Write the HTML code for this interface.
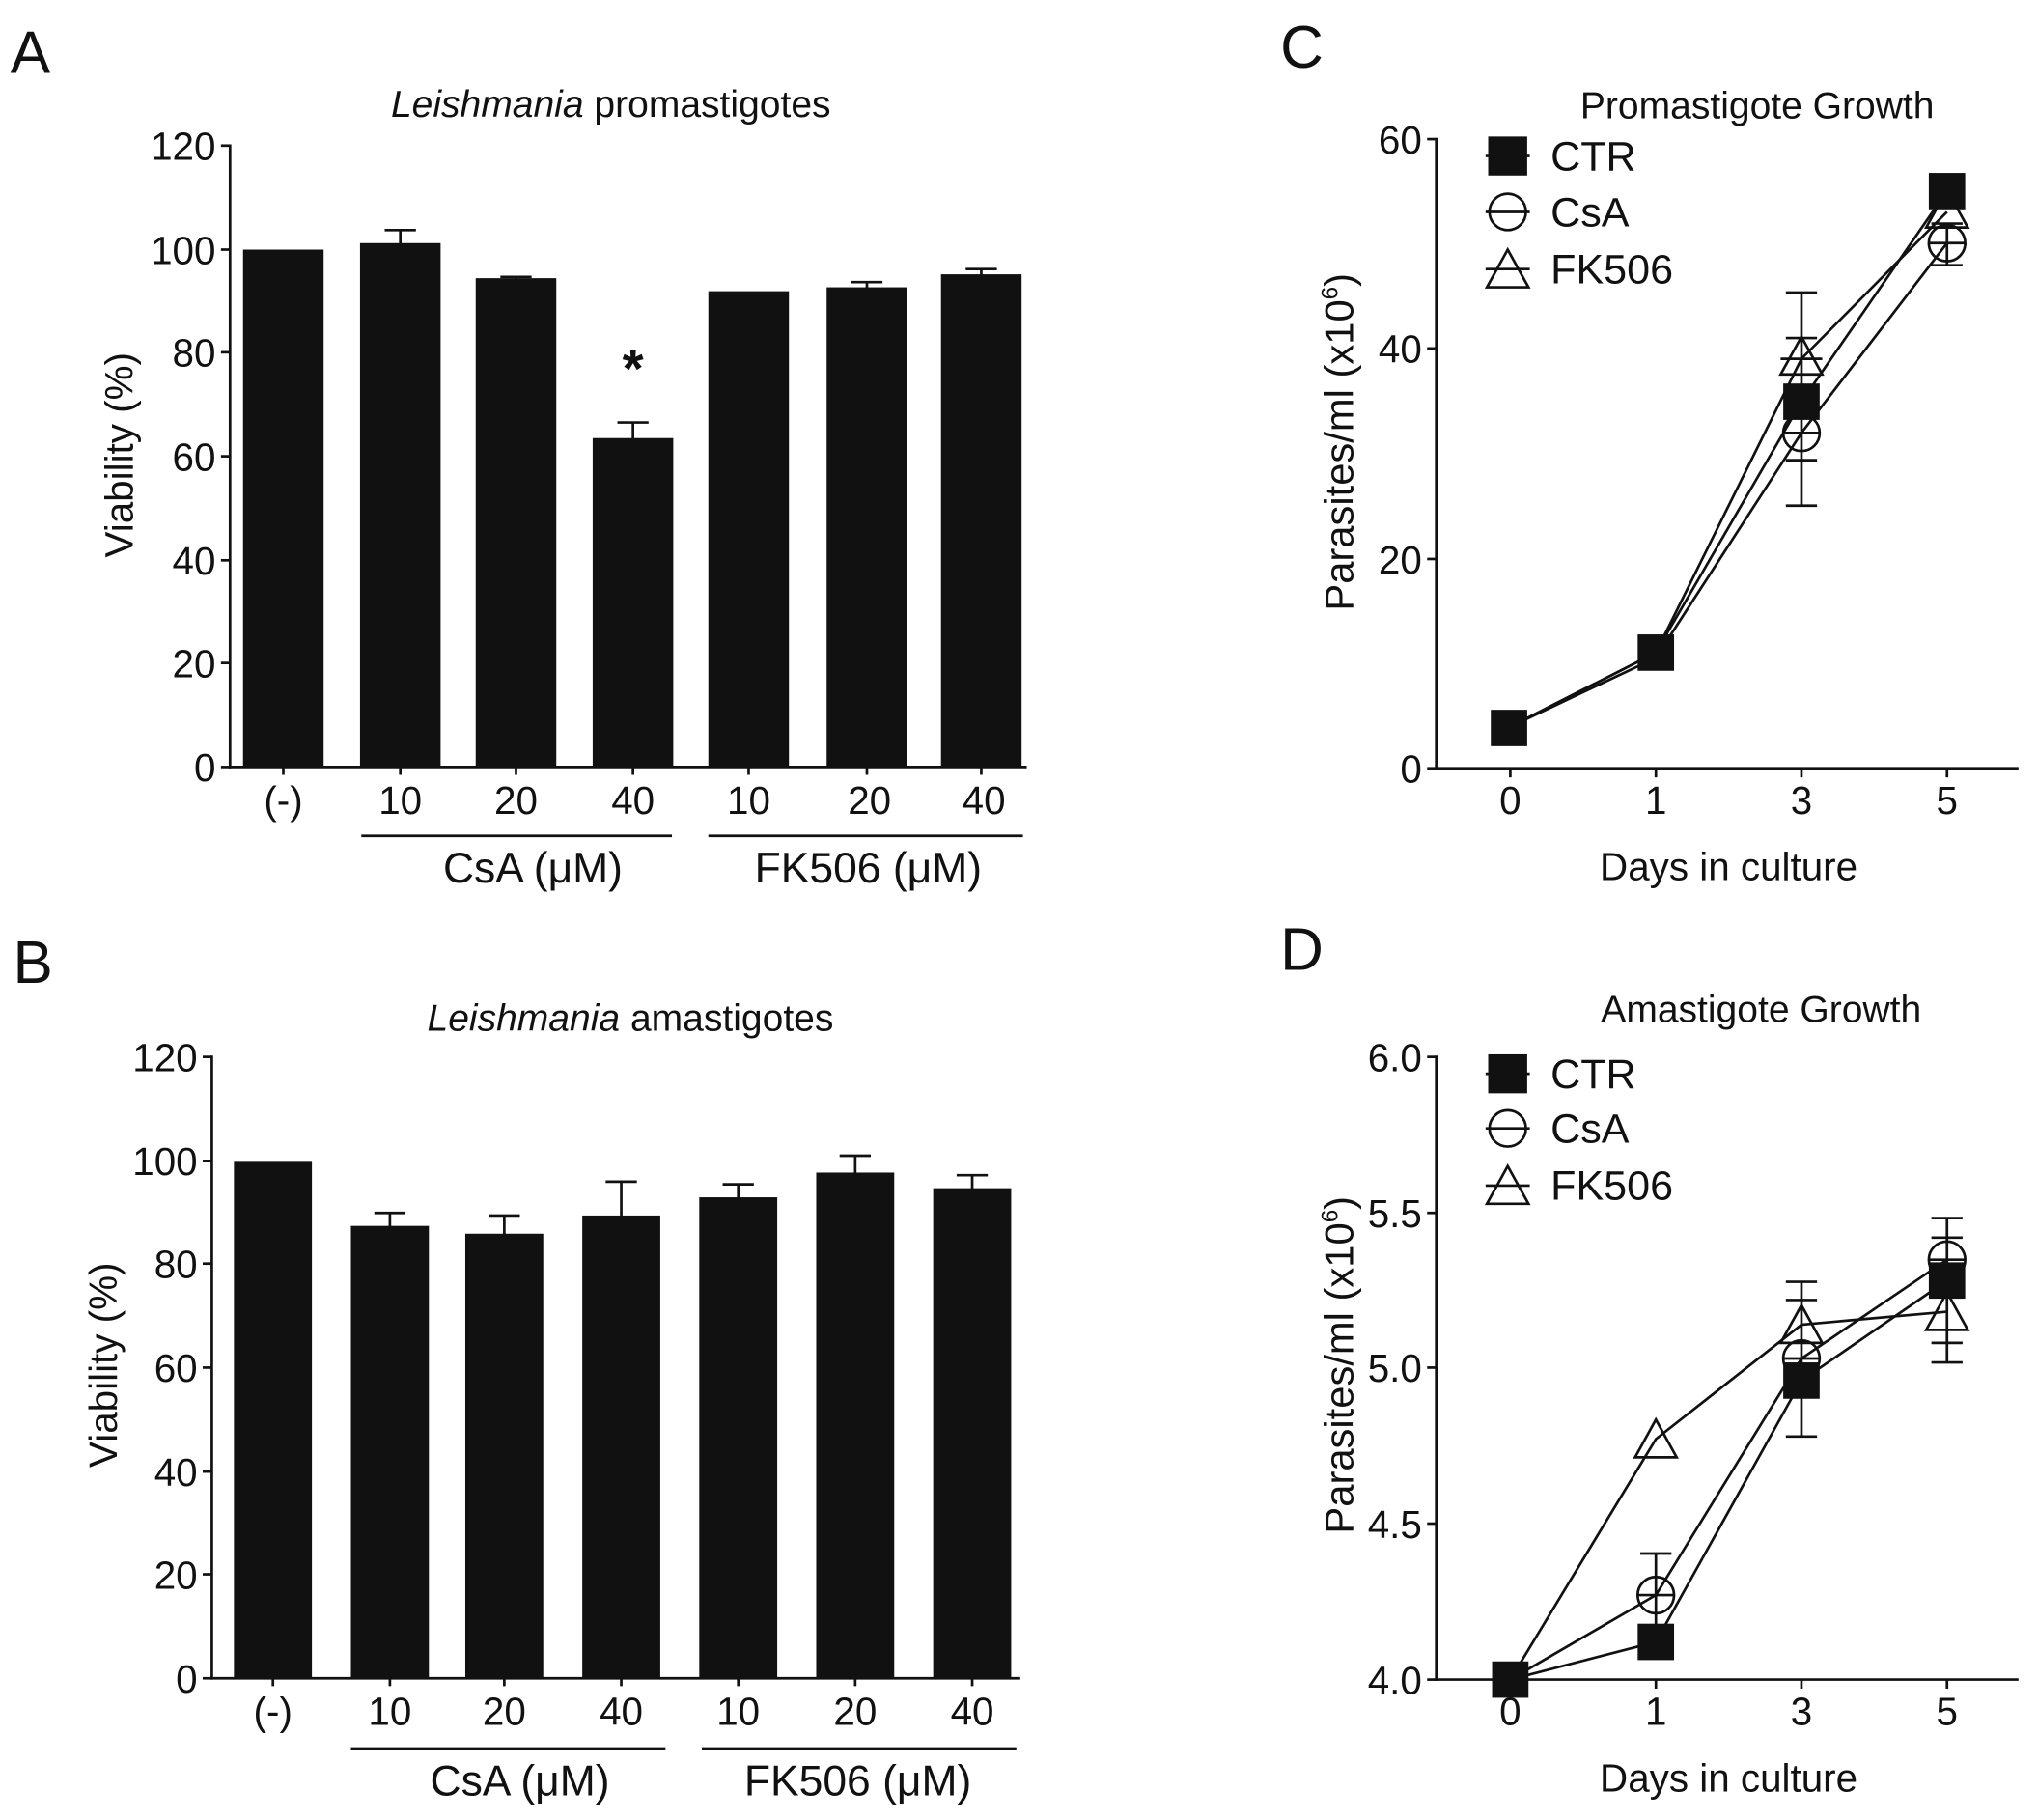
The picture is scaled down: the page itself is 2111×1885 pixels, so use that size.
<!DOCTYPE html>
<html><head><meta charset="utf-8"><style>
html,body{margin:0;padding:0;background:#fff;}
svg{display:block;}
text{font-family:"Liberation Sans",Arial,sans-serif;fill:#111;}
</style></head><body>
<svg width="2111" height="1885" viewBox="0 0 1568 1400" preserveAspectRatio="none" xmlns="http://www.w3.org/2000/svg">
<g stroke="#111" stroke-width="2" fill="none">
<line x1="177" y1="111" x2="177" y2="591"/>
<line x1="176" y1="590" x2="790" y2="590"/>
<line x1="170" y1="112" x2="177" y2="112"/><line x1="170" y1="192" x2="177" y2="192"/><line x1="170" y1="271" x2="177" y2="271"/><line x1="170" y1="351" x2="177" y2="351"/><line x1="170" y1="431" x2="177" y2="431"/><line x1="170" y1="510" x2="177" y2="510"/><line x1="170" y1="590" x2="177" y2="590"/>
<path d="M218 590V596M308 590V596M397 590V596M487 590V596M576 590V596M667 590V596M755 590V596"/>
<line x1="278" y1="643" x2="517" y2="643"/><line x1="545" y1="643" x2="787" y2="643"/>
<path d="M308 586V177M296 177H320M397 586V213M385 213H409M487 586V325M475 325H499M667 586V217M655 217H679M755 586V207M743 207H767"/>
<line x1="163" y1="812" x2="163" y2="1292"/>
<line x1="162" y1="1291" x2="785" y2="1291"/>
<line x1="156" y1="813" x2="163" y2="813"/><line x1="156" y1="893" x2="163" y2="893"/><line x1="156" y1="972" x2="163" y2="972"/><line x1="156" y1="1052" x2="163" y2="1052"/><line x1="156" y1="1132" x2="163" y2="1132"/><line x1="156" y1="1211" x2="163" y2="1211"/><line x1="156" y1="1291" x2="163" y2="1291"/>
<path d="M210 1291V1297M300 1291V1297M388 1291V1297M478 1291V1297M568 1291V1297M658 1291V1297M748 1291V1297"/>
<line x1="270" y1="1345" x2="512" y2="1345"/><line x1="540" y1="1345" x2="782" y2="1345"/>
<path d="M300 1280V933M288 933H312M388 1280V935M376 935H400M478 1280V909M466 909H490M568 1280V911M556 911H580M658 1280V889M646 889H670M748 1280V904M736 904H760"/>
</g>
<g fill="#111">
<rect x="187" y="192" width="62" height="398"/>
<rect x="277" y="187" width="62" height="403"/>
<rect x="366" y="214" width="62" height="376"/>
<rect x="456" y="337" width="62" height="253"/>
<rect x="545" y="224" width="62" height="366"/>
<rect x="636" y="221" width="62" height="369"/>
<rect x="724" y="211" width="62" height="379"/>
<rect x="180" y="893" width="60" height="398"/>
<rect x="270" y="943" width="60" height="348"/>
<rect x="358" y="949" width="60" height="342"/>
<rect x="448" y="935" width="60" height="356"/>
<rect x="538" y="921" width="60" height="370"/>
<rect x="628" y="902" width="60" height="389"/>
<rect x="718" y="914" width="60" height="377"/>
</g>
<text x="8" y="56" font-size="46">A</text>
<text x="470" y="90" font-size="29" text-anchor="middle"><tspan font-style="italic">Leishmania</tspan> promastigotes</text>
<g font-size="30" text-anchor="end">
<text x="166" y="123">120</text><text x="166" y="203">100</text><text x="166" y="282">80</text><text x="166" y="362">60</text><text x="166" y="442">40</text><text x="166" y="521">20</text><text x="166" y="601">0</text>
</g>
<text transform="translate(102,350) rotate(-90)" font-size="30" text-anchor="middle">Viability (%)</text>
<g font-size="30" text-anchor="middle">
<text x="218" y="626">(-)</text><text x="308" y="626">10</text><text x="397" y="626">20</text><text x="487" y="626">40</text><text x="576" y="626">10</text><text x="669" y="626">20</text><text x="757" y="626">40</text>
</g>
<g font-size="33" text-anchor="middle"><text x="410" y="679">CsA (μM)</text><text x="668" y="679">FK506 (μM)</text></g>
<text x="487" y="298" font-size="42" text-anchor="middle" font-weight="bold">*</text>
<text x="10" y="756" font-size="46">B</text>
<text x="485" y="793" font-size="29" text-anchor="middle"><tspan font-style="italic">Leishmania</tspan> amastigotes</text>
<g font-size="30" text-anchor="end">
<text x="152" y="824">120</text><text x="152" y="904">100</text><text x="152" y="983">80</text><text x="152" y="1063">60</text><text x="152" y="1143">40</text><text x="152" y="1222">20</text><text x="152" y="1302">0</text>
</g>
<text transform="translate(90,1050) rotate(-90)" font-size="30" text-anchor="middle">Viability (%)</text>
<g font-size="30" text-anchor="middle">
<text x="210" y="1327">(-)</text><text x="300" y="1327">10</text><text x="388" y="1327">20</text><text x="478" y="1327">40</text><text x="568" y="1327">10</text><text x="658" y="1327">20</text><text x="748" y="1327">40</text>
</g>
<g font-size="33" text-anchor="middle"><text x="400" y="1381">CsA (μM)</text><text x="660" y="1381">FK506 (μM)</text></g>

<text x="985" y="52" font-size="46">C</text>
<text x="1352" y="91" font-size="29" text-anchor="middle">Promastigote Growth</text>
<g stroke="#111" stroke-width="2" fill="none">
<line x1="1105" y1="106" x2="1105" y2="592"/>
<line x1="1104" y1="591" x2="1553" y2="591"/>
<line x1="1098" y1="107" x2="1105" y2="107"/><line x1="1098" y1="268" x2="1105" y2="268"/><line x1="1098" y1="430" x2="1105" y2="430"/><line x1="1098" y1="591" x2="1105" y2="591"/>
<line x1="1162" y1="591" x2="1162" y2="598"/><line x1="1274" y1="591" x2="1274" y2="598"/><line x1="1386" y1="591" x2="1386" y2="598"/><line x1="1498" y1="591" x2="1498" y2="598"/>
<polyline points="1162,559 1274,502 1386,309 1498,147"/>
<polyline points="1162,559 1274,506 1386,333 1498,187"/>
<polyline points="1162,559 1274,502 1386,276 1498,163"/>
<path d="M1386 225V389M1374 225H1398M1374 389H1398M1386 260V354M1374 260H1398M1374 354H1398M1498 172V204M1486 172H1510M1486 204H1510"/>
<circle cx="1386" cy="333" r="14"/><line x1="1372" y1="333" x2="1400" y2="333"/>
<circle cx="1498" cy="187" r="14"/><line x1="1484" y1="187" x2="1512" y2="187"/>
<path d="M1386 259L1402 288H1370Z M1370 276H1402"/>
<path d="M1498 146L1514 175H1482Z"/>
<circle cx="1160" cy="163" r="14"/><line x1="1143" y1="163" x2="1177" y2="163"/>
<path d="M1160 192L1176 221H1144Z M1143 207H1177"/>
<line x1="1143" y1="120" x2="1177" y2="120"/>
</g>
<g fill="#111">
<rect x="1147" y="546" width="28" height="28"/>
<rect x="1260" y="488" width="28" height="28"/>
<rect x="1372" y="295" width="28" height="28"/>
<rect x="1484" y="133" width="28" height="28"/>
<rect x="1145" y="105" width="30" height="30"/>
</g>
<g font-size="30" text-anchor="end">
<text x="1094" y="118">60</text><text x="1094" y="279">40</text><text x="1094" y="441">20</text><text x="1094" y="602">0</text>
</g>
<g font-size="30" text-anchor="middle">
<text x="1162" y="626">0</text><text x="1274" y="626">1</text><text x="1386" y="626">3</text><text x="1498" y="626">5</text>
</g>
<text x="1330" y="677" font-size="30" text-anchor="middle">Days in culture</text>
<text transform="translate(1041,340) rotate(-90)" font-size="31" text-anchor="middle">Parasites/ml (x10<tspan font-size="18" dy="-12">6</tspan><tspan dy="12">)</tspan></text>
<g font-size="32"><text x="1193" y="131">CTR</text><text x="1193" y="174">CsA</text><text x="1193" y="218">FK506</text></g>

<text x="985" y="746" font-size="46">D</text>
<text x="1355" y="786" font-size="29" text-anchor="middle">Amastigote Growth</text>
<g stroke="#111" stroke-width="2" fill="none">
<line x1="1105" y1="812" x2="1105" y2="1293"/>
<line x1="1104" y1="1292" x2="1553" y2="1292"/>
<line x1="1098" y1="813" x2="1105" y2="813"/><line x1="1098" y1="933" x2="1105" y2="933"/><line x1="1098" y1="1052" x2="1105" y2="1052"/><line x1="1098" y1="1172" x2="1105" y2="1172"/><line x1="1098" y1="1292" x2="1105" y2="1292"/>
<line x1="1162" y1="1292" x2="1162" y2="1299"/><line x1="1274" y1="1292" x2="1274" y2="1299"/><line x1="1386" y1="1292" x2="1386" y2="1299"/><line x1="1498" y1="1292" x2="1498" y2="1299"/>
<polyline points="1162,1292 1274,1263 1386,1062 1498,985"/>
<polyline points="1162,1292 1274,1227 1386,1045 1498,969"/>
<polyline points="1162,1292 1274,1107 1386,1019 1498,1009"/>
<path d="M1386 1000V1105M1374 1000H1398M1374 1105H1398M1386 986V1040M1374 986H1398M1498 937V1048M1486 937H1510M1486 1048H1510M1498 952V1033M1486 952H1510M1486 1033H1510M1274 1195V1250M1262 1195H1286"/>
<circle cx="1274" cy="1227" r="14"/><line x1="1260" y1="1227" x2="1288" y2="1227"/>
<circle cx="1386" cy="1045" r="14"/><line x1="1372" y1="1045" x2="1400" y2="1045"/>
<circle cx="1498" cy="969" r="14"/><line x1="1484" y1="969" x2="1512" y2="969"/>
<path d="M1274 1092L1290 1121H1258Z"/>
<path d="M1386 1004L1402 1033H1370Z"/>
<path d="M1498 994L1514 1023H1482Z"/>
<circle cx="1160" cy="868" r="14"/><line x1="1143" y1="868" x2="1177" y2="868"/>
<path d="M1160 897L1176 926H1144Z M1143 912H1177"/>
<line x1="1143" y1="826" x2="1177" y2="826"/>
</g>
<g fill="#111">
<rect x="1148" y="1278" width="28" height="28"/>
<rect x="1260" y="1249" width="28" height="28"/>
<rect x="1372" y="1048" width="28" height="28"/>
<rect x="1484" y="971" width="28" height="28"/>
<rect x="1145" y="811" width="30" height="30"/>
</g>
<g font-size="30" text-anchor="end">
<text x="1094" y="824">6.0</text><text x="1094" y="944">5.5</text><text x="1094" y="1063">5.0</text><text x="1094" y="1183">4.5</text><text x="1094" y="1303">4.0</text>
</g>
<g font-size="30" text-anchor="middle">
<text x="1162" y="1327">0</text><text x="1274" y="1327">1</text><text x="1386" y="1327">3</text><text x="1498" y="1327">5</text>
</g>
<text x="1330" y="1378" font-size="30" text-anchor="middle">Days in culture</text>
<text transform="translate(1041,1050) rotate(-90)" font-size="31" text-anchor="middle">Parasites/ml (x10<tspan font-size="18" dy="-12">6</tspan><tspan dy="12">)</tspan></text>
<g font-size="32"><text x="1193" y="837">CTR</text><text x="1193" y="879">CsA</text><text x="1193" y="923">FK506</text></g>
</svg>
</body></html>
